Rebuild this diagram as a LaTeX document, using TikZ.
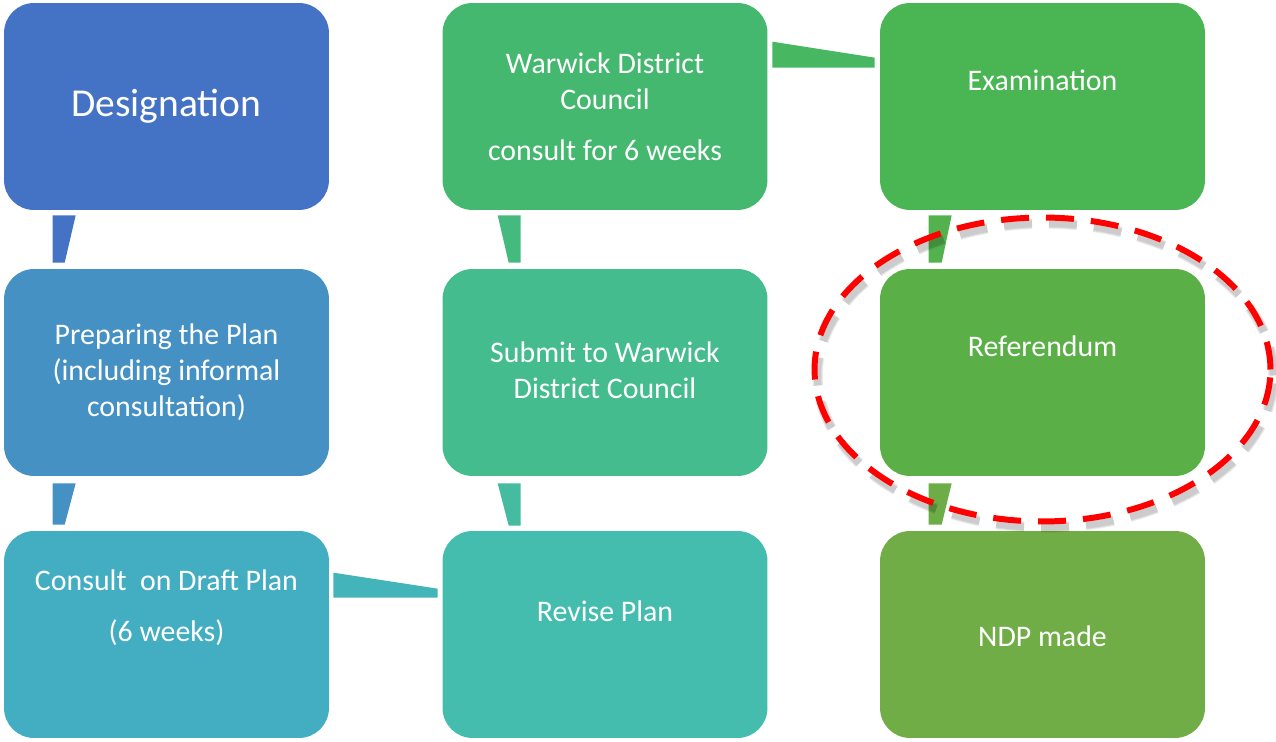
\documentclass[tikz,border=0pt]{standalone}
\usepackage{fontspec}
\setmainfont{Carlito}
\usetikzlibrary{calc}

\definecolor{designationblue}{HTML}{4472C4}
\definecolor{preparingblue}{HTML}{4691C4}
\definecolor{consultteal}{HTML}{43ADC1}
\definecolor{reviseteal}{HTML}{44BDAF}
\definecolor{submitgreen}{HTML}{45BC8E}
\definecolor{warwickgreen}{HTML}{45B870}
\definecolor{examgreen}{HTML}{4AB553}
\definecolor{referendumgreen}{HTML}{5BAF47}
\definecolor{ndpgreen}{HTML}{71AD47}
\definecolor{ringred}{HTML}{FF0000}

\begin{document}
\begin{tikzpicture}[
    x=0.02cm, y=-0.02cm,
  stagebox/.style={rectangle, rounded corners=0.6cm, minimum width=6.5cm, minimum height=4.14cm, inner sep=0pt},
  stagetext/.style={text=white, align=center, font=\fontsize{17}{20.5}\selectfont},
  ring/.style={line width=3.4pt, dash pattern=on 0.56cm off 0.34cm}
]
\useasboundingbox (0,0) rectangle (1276,742);

% Stage boxes
\node[stagebox, fill=designationblue] (designation) at (166.5,106.5) {};
\node[stagebox, fill=preparingblue] (preparing) at (166.5,372.5) {};
\node[stagebox, fill=consultteal] (consult) at (166.5,634.5) {};
\node[stagebox, fill=reviseteal] (revise) at (605,634.5) {};
\node[stagebox, fill=submitgreen] (submit) at (605,372.5) {};
\node[stagebox, fill=warwickgreen] (warwick) at (605,106.5) {};
\node[stagebox, fill=examgreen] (examination) at (1042.5,106.5) {};
\node[stagebox, fill=referendumgreen] (referendum) at (1042.5,372.5) {};
\node[stagebox, fill=ndpgreen] (ndp) at (1042.5,634.5) {};

% Stage texts
\node[stagetext] (designation-t) at (designation.center) {\fontsize{22.5}{26}\selectfont Designation};
\node[stagetext] (preparing-t) at (preparing.center) {Preparing the Plan\\(including informal\\consultation)};
\node[stagetext] (consult-t) at ($(consult.center)+(0,-27)$) {Consult\ \ on Draft Plan\\[0.3cm](6 weeks)};
\node[stagetext] (revise-t) at ($(revise.center)+(0,-23)$) {Revise Plan};
\node[stagetext] (submit-t) at ($(submit.center)+(0,-2)$) {Submit to Warwick\\District Council};
\node[stagetext] (warwick-t) at (warwick.center) {Warwick District\\Council\\[0.3cm]consult for 6 weeks};
\node[stagetext] (examination-t) at ($(examination.center)+(0,-26)$) {Examination};
\node[stagetext] (referendum-t) at ($(referendum.center)+(0,-26)$) {Referendum};
\node[stagetext] (ndp-t) at ($(ndp.center)+(0,2)$) {NDP made};

% Tapered links between stages
\fill[designationblue] ($(designation.south west)+(49,5)$) -- ($(designation.south west)+(72,5)$)
  -- ($(preparing.north west)+(61,-6)$) -- ($(preparing.north west)+(49,-6)$) -- cycle;
\fill[preparingblue] ($(preparing.south west)+(49,7)$) -- ($(preparing.south west)+(72,7)$)
  -- ($(consult.north west)+(61,-6)$) -- ($(consult.north west)+(49,-6)$) -- cycle;
\fill[consultteal!60!reviseteal] ($(consult.north east)+(4,42)$) -- ($(revise.north west)+(-4.5,58)$)
  -- ($(revise.north west)+(-4.5,67)$) -- ($(consult.north east)+(4,67)$) -- cycle;
\fill[reviseteal!50!submitgreen] ($(submit.south west)+(55.5,7)$) -- ($(submit.south west)+(78.5,7)$)
  -- ($(revise.north west)+(78.5,-5)$) -- ($(revise.north west)+(66.5,-5)$) -- cycle;
\fill[submitgreen!50!warwickgreen] ($(warwick.south west)+(55.5,5)$) -- ($(warwick.south west)+(78.5,5)$)
  -- ($(submit.north west)+(78.5,-6)$) -- ($(submit.north west)+(66.5,-6)$) -- cycle;
\fill[warwickgreen!50!examgreen] ($(warwick.north east)+(4.5,39)$) -- ($(examination.north west)+(-5,55)$)
  -- ($(examination.north west)+(-5,65)$) -- ($(warwick.north east)+(4.5,65)$) -- cycle;
\fill[examgreen!50!referendumgreen] ($(examination.south west)+(49,5)$) -- ($(examination.south west)+(72,5)$)
  -- ($(referendum.north west)+(62,-6)$) -- ($(referendum.north west)+(49,-6)$) -- cycle;
\fill[referendumgreen!25!ndpgreen] ($(referendum.south west)+(49,7)$) -- ($(referendum.south west)+(72,7)$)
  -- ($(ndp.north west)+(62,-6)$) -- ($(ndp.north west)+(49,-6)$) -- cycle;

% Dashed ring round the referendum, with a soft shadow
\foreach \w in {6,5,4}
  \draw[ring, line width=\w pt, black, opacity=0.07] ($(referendum.center)+(3,3)$) ellipse [x radius=4.56cm, y radius=3.04cm];
\draw[ring, ringred] ($(referendum.center)+(0,-3)$) ellipse [x radius=4.56cm, y radius=3.04cm];

\end{tikzpicture}
\end{document}
